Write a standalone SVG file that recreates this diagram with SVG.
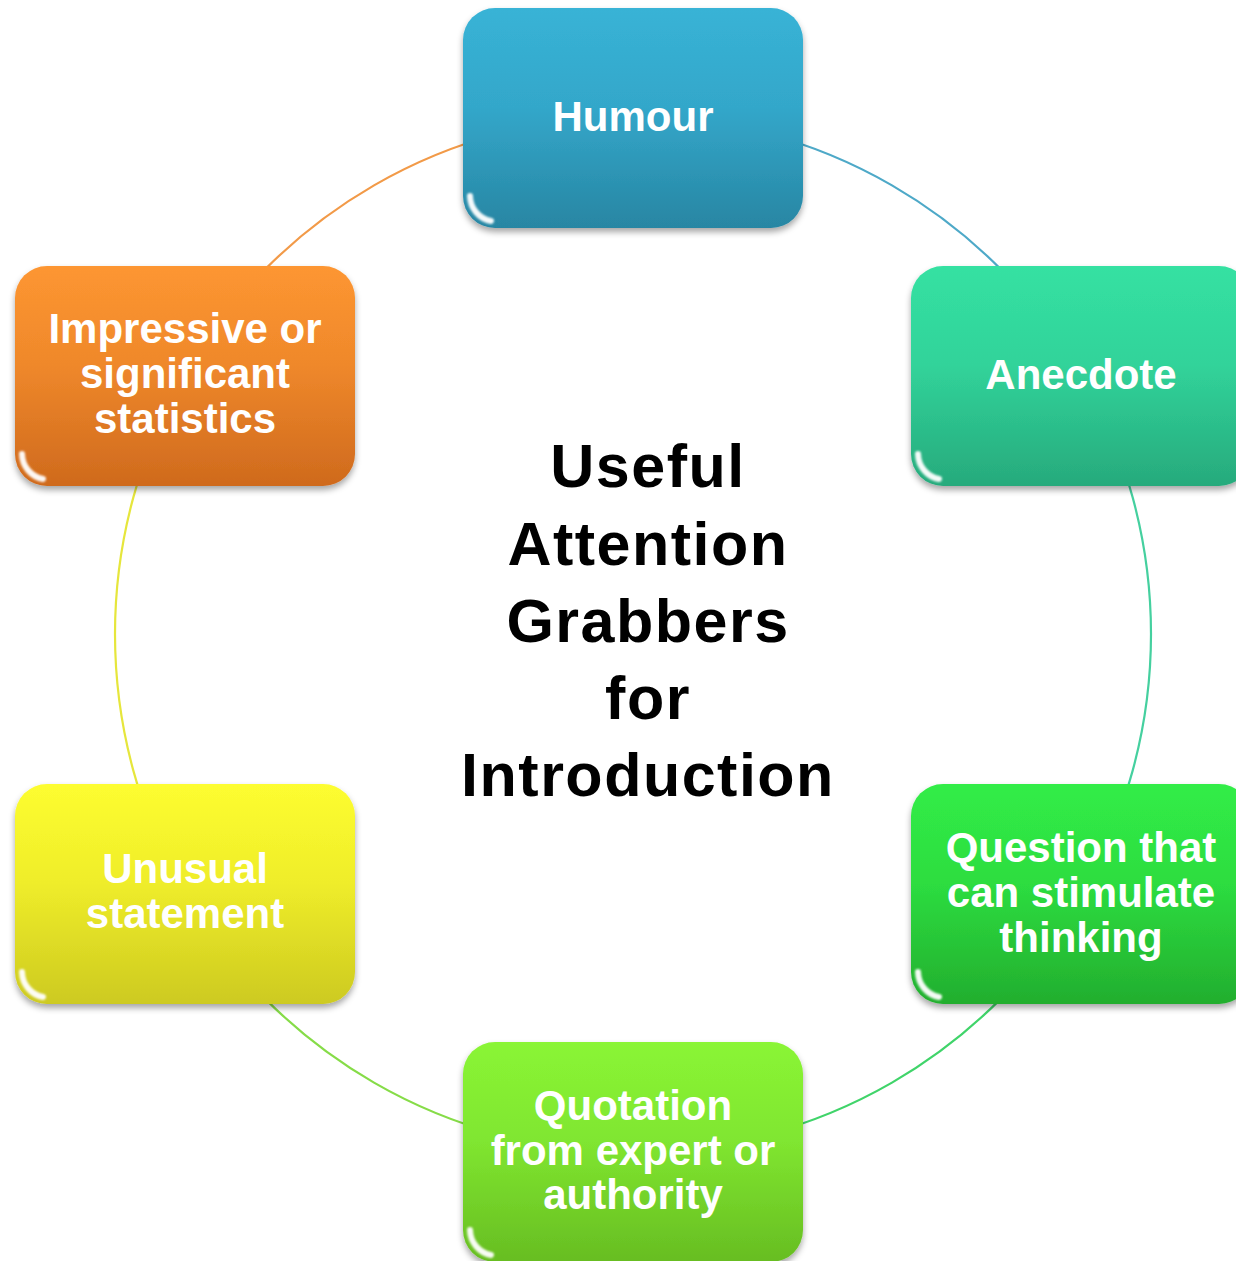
<svg xmlns="http://www.w3.org/2000/svg" xmlns:xlink="http://www.w3.org/1999/xlink" width="1236" height="1261" viewBox="0 0 1236 1261">
  <style>
    .lbl { font-family: "Liberation Sans", Arial, sans-serif; font-weight: bold; font-size: 42px; fill: #ffffff; text-anchor: middle; }
    .title { font-family: "Liberation Sans", Arial, sans-serif; font-weight: bold; font-size: 61px; fill: #000000; text-anchor: middle; letter-spacing: 1.5px; }
    .arc { fill: none; stroke-width: 2.2; }
    .box { filter: url(#shadow); }
  </style>
  <defs>
    <filter id="shadow" x="-10%" y="-10%" width="120%" height="130%">
      <feGaussianBlur in="SourceAlpha" stdDeviation="3"/>
      <feOffset dx="0" dy="4" result="b"/>
      <feFlood flood-color="#000000" flood-opacity="0.35"/>
      <feComposite in2="b" operator="in" result="s"/>
      <feMerge><feMergeNode in="s"/><feMergeNode in="SourceGraphic"/></feMerge>
    </filter>
    <filter id="soft" x="-20%" y="-20%" width="140%" height="140%">
      <feGaussianBlur stdDeviation="1.3"/>
    </filter>
    <linearGradient id="gBlue" x1="0" y1="0" x2="0" y2="1">
      <stop offset="0" stop-color="#38b3d6"/><stop offset="0.45" stop-color="#33a7ca"/><stop offset="1" stop-color="#2886a3"/>
    </linearGradient>
    <linearGradient id="gTeal" x1="0" y1="0" x2="0" y2="1">
      <stop offset="0" stop-color="#35e1a2"/><stop offset="0.45" stop-color="#31d39a"/><stop offset="1" stop-color="#27aa7c"/>
    </linearGradient>
    <linearGradient id="gGreen" x1="0" y1="0" x2="0" y2="1">
      <stop offset="0" stop-color="#31ed47"/><stop offset="0.45" stop-color="#2ddd40"/><stop offset="1" stop-color="#22ae2e"/>
    </linearGradient>
    <linearGradient id="gLime" x1="0" y1="0" x2="0" y2="1">
      <stop offset="0" stop-color="#8af535"/><stop offset="0.45" stop-color="#80e630"/><stop offset="1" stop-color="#67bd22"/>
    </linearGradient>
    <linearGradient id="gYellow" x1="0" y1="0" x2="0" y2="1">
      <stop offset="0" stop-color="#fdfd30"/><stop offset="0.45" stop-color="#efed2a"/><stop offset="1" stop-color="#cdca20"/>
    </linearGradient>
    <linearGradient id="gOrange" x1="0" y1="0" x2="0" y2="1">
      <stop offset="0" stop-color="#fd9631"/><stop offset="0.45" stop-color="#ef882b"/><stop offset="1" stop-color="#cf6a1d"/>
    </linearGradient>
    <!-- glossy highlights laid over every box -->
    <g id="gloss" fill="none" stroke="#ffffff" stroke-linecap="round">
      <path d="M 34 7 L 306 7" stroke-width="5" stroke-opacity="0.4" filter="url(#soft)"/>
      <path d="M 335 34 L 335 186" stroke-width="3" stroke-opacity="0.45" filter="url(#soft)"/>
      <path d="M 7 44 L 7 176" stroke-width="3" stroke-opacity="0.18" filter="url(#soft)"/>
      <path d="M 7 188 A 26 26 0 0 0 28 213" stroke-width="6" stroke-opacity="0.95" filter="url(#soft)"/>
    </g>
  </defs>

  <rect width="1236" height="1261" fill="#ffffff"/>

  <!-- ring segments joining the nodes -->
  <g id="connectors">
    <path class="arc" stroke="#4ea9c8" d="M 633 116 A 518 518 0 0 1 1081.6 375"/>
    <path class="arc" stroke="#45d09f" d="M 1081.6 375 A 518 518 0 0 1 1081.6 893"/>
    <path class="arc" stroke="#40d46a" d="M 1081.6 893 A 518 518 0 0 1 633 1152"/>
    <path class="arc" stroke="#86dc48" d="M 633 1152 A 518 518 0 0 1 184.4 893"/>
    <path class="arc" stroke="#e6e63c" d="M 184.4 893 A 518 518 0 0 1 184.4 375"/>
    <path class="arc" stroke="#f29a48" d="M 184.4 375 A 518 518 0 0 1 633 116"/>
  </g>

  <g id="humour" transform="translate(463 8)">
    <rect class="box" width="340" height="220" rx="32" fill="url(#gBlue)"/>
    <use xlink:href="#gloss"/>
    <text class="lbl" x="170" y="123">Humour</text>
  </g>

  <g id="anecdote" transform="translate(911 266)">
    <rect class="box" width="340" height="220" rx="32" fill="url(#gTeal)"/>
    <use xlink:href="#gloss"/>
    <text class="lbl" x="170" y="123">Anecdote</text>
  </g>

  <g id="question" transform="translate(911 784)">
    <rect class="box" width="340" height="220" rx="32" fill="url(#gGreen)"/>
    <use xlink:href="#gloss"/>
    <text class="lbl" x="170" y="78">Question that</text>
    <text class="lbl" x="170" y="123">can stimulate</text>
    <text class="lbl" x="170" y="168">thinking</text>
  </g>

  <g id="quotation" transform="translate(463 1042)">
    <rect class="box" width="340" height="220" rx="32" fill="url(#gLime)"/>
    <use xlink:href="#gloss"/>
    <text class="lbl" x="170" y="78">Quotation</text>
    <text class="lbl" x="170" y="123">from expert or</text>
    <text class="lbl" x="170" y="167">authority</text>
  </g>

  <g id="unusual" transform="translate(15 784)">
    <rect class="box" width="340" height="220" rx="32" fill="url(#gYellow)"/>
    <use xlink:href="#gloss"/>
    <text class="lbl" x="170" y="99">Unusual</text>
    <text class="lbl" x="170" y="144">statement</text>
  </g>

  <g id="impressive" transform="translate(15 266)">
    <rect class="box" width="340" height="220" rx="32" fill="url(#gOrange)"/>
    <use xlink:href="#gloss"/>
    <text class="lbl" x="170" y="77">Impressive or</text>
    <text class="lbl" x="170" y="122">significant</text>
    <text class="lbl" x="170" y="167">statistics</text>
  </g>

  <g id="centre">
    <text class="title" x="648" y="487">Useful</text>
    <text class="title" x="648" y="565">Attention</text>
    <text class="title" x="648" y="642">Grabbers</text>
    <text class="title" x="648" y="719">for</text>
    <text class="title" x="648" y="796">Introduction</text>
  </g>
</svg>
